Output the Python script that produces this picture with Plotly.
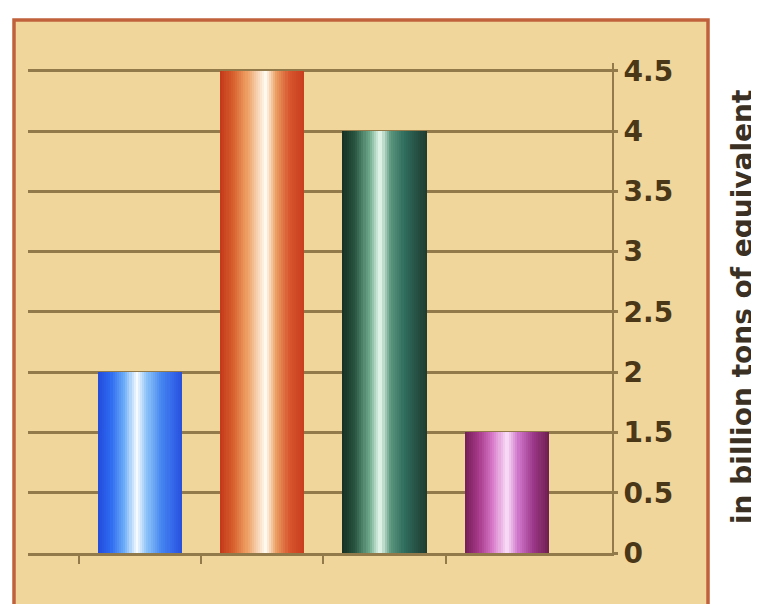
import numpy as np
import plotly.graph_objects as go

# ---- data ----
categories = ["Category 1", "Category 2", "Category 3", "Category 4"]
values = [2, 4.5, 4, 1.5]                      # as read on the axis labels
y_tick_labels = [0, 0.5, 1.5, 2, 2.5, 3, 3.5, 4, 4.5]   # the axis skips "1"
y_title = "in billion tons of equivalent"

# colour stops (position across bar, rgb) for each bar's cylinder shading
bar_stops = [
    [(0.0, (35, 75, 220)), (0.15, (45, 105, 240)), (0.32, (110, 175, 248)),
     (0.46, (248, 252, 255)), (0.58, (140, 195, 248)), (0.75, (70, 135, 240)),
     (0.9, (50, 100, 232)), (1.0, (40, 80, 220))],
    [(0.0, (195, 55, 25)), (0.15, (215, 95, 45)), (0.32, (238, 160, 100)),
     (0.54, (255, 250, 240)), (0.66, (235, 160, 100)), (0.82, (215, 85, 45)),
     (1.0, (200, 60, 30))],
    [(0.0, (22, 48, 35)), (0.15, (40, 85, 65)), (0.32, (110, 170, 140)),
     (0.45, (235, 250, 240)), (0.57, (90, 150, 125)), (0.75, (45, 105, 90)),
     (1.0, (30, 60, 48))],
    [(0.0, (115, 30, 85)), (0.16, (165, 55, 135)), (0.33, (215, 120, 200)),
     (0.5, (250, 225, 250)), (0.64, (205, 115, 200)), (0.82, (155, 55, 135)),
     (1.0, (110, 30, 80))],
]

# ---- style ----
tan = "#f1d69c"
border = "#c0613c"
grid = "#927a4a"
label_col = "#4a3718"

x_pos = list(range(len(categories)))
y_pos = list(np.interp(values, y_tick_labels, range(len(y_tick_labels))))


def col_at(stops, t):
    for (p0, c0), (p1, c1) in zip(stops[:-1], stops[1:]):
        if p0 <= t <= p1:
            f = (t - p0) / (p1 - p0) if p1 > p0 else 0
            c = [round(a + (b - a) * f) for a, b in zip(c0, c1)]
            return "rgb(%d,%d,%d)" % tuple(c)
    return "rgb(%d,%d,%d)" % stops[-1][1]


fig = go.Figure()
bar_w = 0.69
n_strips = 40
sw = bar_w / n_strips
for i in range(n_strips):
    t = (i + 0.5) / n_strips
    fig.add_trace(go.Bar(
        x=x_pos, y=y_pos,
        width=[sw * 1.6 if i < n_strips - 1 else sw] * len(x_pos),
        offset=[-bar_w / 2 + i * sw] * len(x_pos),
        marker=dict(color=[col_at(s, t) for s in bar_stops], line=dict(width=0)),
        hoverinfo="skip", showlegend=False,
    ))

# the page adds an 8px body margin, so positions are shifted by that
off = 8
W, H = 759, 604
L, T = 28 - off, 63 - off
R = W - (612 - off)
B = H - (553 - off)
pw, ph = W - L - R, H - T - B

fig.add_shape(type="rect", xref="paper", yref="paper",
              x0=(14 - off - L) / pw, x1=(708 - off - L) / pw,
              y0=(H - B - 640) / ph, y1=(H - B - (20 - off)) / ph,
              fillcolor=tan, line=dict(color=border, width=3.5), layer="below")

fig.add_annotation(text="<b>" + y_title + "</b>", textangle=-90,
                   xref="paper", yref="paper",
                   x=(742 - off - L) / pw, y=(H - B - (307 - off)) / ph,
                   showarrow=False, xanchor="center", yanchor="middle",
                   font=dict(family="DejaVu Sans", size=28, color="#3a3124"))

fig.update_layout(
    width=W, height=H, margin=dict(l=L, r=R, t=T, b=B),
    paper_bgcolor="white", plot_bgcolor="rgba(0,0,0,0)",
    barmode="overlay", bargap=0,
    xaxis=dict(range=[-0.916, 3.86], tickmode="array",
               tickvals=[p - 0.5 for p in x_pos], showticklabels=False,
               ticks="outside", ticklen=8, tickwidth=2, tickcolor=grid,
               showgrid=False, zeroline=False, showline=True,
               linecolor=grid, linewidth=2.5, fixedrange=True),
    yaxis=dict(side="right", range=[0, 8.13], tickmode="array",
               tickvals=list(range(len(y_tick_labels))),
               ticktext=["<b>%g</b>" % v for v in y_tick_labels],
               ticks="outside", ticklen=4, tickwidth=2.5, tickcolor=grid,
               showgrid=True, gridcolor=grid, gridwidth=2.5,
               zeroline=False, showline=True, linecolor=grid, linewidth=2,
               tickfont=dict(family="DejaVu Sans", size=28, color=label_col),
               ticklabelstandoff=0, fixedrange=True),
)

fig.write_html("out.html")
